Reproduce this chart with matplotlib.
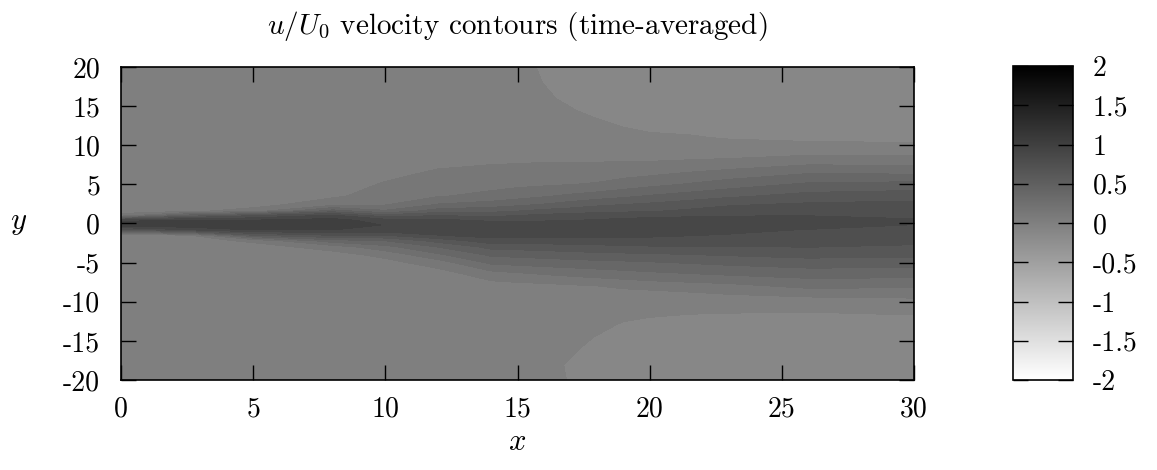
import numpy as np
import matplotlib
matplotlib.use("Agg")
import matplotlib.pyplot as plt
from matplotlib.colors import Normalize
from matplotlib.cm import ScalarMappable

plt.rcParams['font.family'] = 'serif'
plt.rcParams['font.serif'] = ['cmr10']
plt.rcParams['mathtext.fontset'] = 'cm'
plt.rcParams['axes.unicode_minus'] = False

# stations along the jet (x) and sample points across it (y)
x_st = [0, 2.5, 5, 8, 10, 12, 14, 15, 16, 17, 18, 19, 20, 21.5, 23, 26, 30]
y_pts = [-20, -18, -16, -14.5, -13, -11,
         -9.5, -8, -6.5, -5, -4, -3, -2.2, -1.5, -0.8, -0.2, 0.4, 1.0, 1.6, 2.4, 3.5, 5, 6.5, 8, 9.5,
         11, 13, 14.5, 16, 18, 20]

# u/U0 profiles, one per x station (same order as y_pts)
u_x0 = [0, 0, 0, 0, 0, 0,
        0, 0, 0, 0, 0, 0, 0, 0, 0.62, 1.04, 0.9, 0.12, 0, 0, 0, 0, 0, 0, 0,
        0, 0, 0, 0, 0, 0]
u_x2 = [0, 0, 0, 0, 0, 0,
        0, 0, 0, 0, 0, 0, 0, 0.04, 0.81, 1.04, 0.97, 0.5, 0.03, 0, 0, 0, 0, 0, 0,
        0, 0, 0, 0, 0, 0]
u_x5 = [0, 0, 0, 0, 0, 0,
        0, 0, 0, 0, 0, 0, 0.09, 0.56, 0.95, 1.04, 0.95, 0.69, 0.12, 0.01, 0, 0, 0, 0, 0,
        0, 0, 0, 0, 0, 0]
u_x8 = [0, 0, 0, 0, 0, 0,
        0, 0, 0, 0, 0.01, 0.12, 0.38, 0.69, 0.94, 1.02, 0.99, 0.85, 0.5, 0.15, 0.04, 0, 0, 0, 0,
        0, 0, 0, 0, 0, 0]
u_x10 = [0, 0, 0, 0, 0, 0,
         0, 0, 0, 0.02, 0.1, 0.27, 0.44, 0.69, 0.9, 0.93, 0.875, 0.62, 0.33, 0.18, 0.125, 0.075, 0.025, 0, 0,
         0, 0, 0, 0, 0, 0]
u_x12 = [0, 0, 0, 0, 0, 0,
         0, 0, 0, 0.125, 0.29, 0.44, 0.61, 0.81, 0.9, 0.91, 0.85, 0.69, 0.5, 0.325, 0.18, 0.13, 0.08, 0.025, 0,
         0, 0, 0, 0, 0, 0]
u_x14 = [0, 0, 0, 0, 0, 0,
         0, 0.01, 0.125, 0.34, 0.46, 0.6, 0.76, 0.86, 0.91, 0.9, 0.79, 0.66, 0.525, 0.375, 0.22, 0.15, 0.1, 0.045, 0.01,
         0, 0, 0, 0, 0, 0]
u_x15 = [0, 0, 0, 0, 0, 0,
         0, 0.018, 0.158, 0.358, 0.475, 0.612, 0.755, 0.86, 0.91, 0.895, 0.795, 0.692, 0.56, 0.412, 0.26, 0.16, 0.105, 0.05, 0.015,
         0, 0, 0, 0, 0, -0.019]
u_x16 = [-0.009, -0.016, 0, 0, 0, 0,
         0, 0.025, 0.19, 0.375, 0.49, 0.625, 0.75, 0.86, 0.91, 0.89, 0.8, 0.725, 0.6, 0.45, 0.3, 0.17, 0.11, 0.055, 0.02,
         0, 0, 0, -0.034, -0.066, -0.081]
u_x17 = [-0.072, -0.078, -0.041, -0.006, 0, 0,
         0, 0.042, 0.215, 0.388, 0.508, 0.638, 0.755, 0.855, 0.908, 0.892, 0.81, 0.742, 0.625, 0.495, 0.338, 0.185, 0.118, 0.055, 0.02,
         0, 0, -0.05, -0.097, -0.125, -0.125]
u_x18 = [-0.125, -0.125, -0.103, -0.069, -0.019, 0,
         0, 0.06, 0.24, 0.4, 0.525, 0.65, 0.76, 0.85, 0.905, 0.895, 0.825, 0.76, 0.65, 0.54, 0.375, 0.2, 0.125, 0.055, 0.02,
         0, -0.044, -0.112, -0.125, -0.125, -0.125]
u_x19 = [-0.125, -0.125, -0.125, -0.125, -0.081, 0,
         -0.015, 0.085, 0.26, 0.412, 0.532, 0.662, 0.76, 0.845, 0.902, 0.898, 0.842, 0.77, 0.662, 0.565, 0.412, 0.238, 0.14, 0.058, 0.015,
         -0.01, -0.09, -0.125, -0.125, -0.125, -0.125]
u_x20 = [-0.125, -0.125, -0.125, -0.125, -0.115, -0.01,
         -0.03, 0.11, 0.28, 0.425, 0.54, 0.675, 0.76, 0.84, 0.9, 0.9, 0.86, 0.78, 0.675, 0.59, 0.45, 0.275, 0.155, 0.06, 0.01,
         -0.04, -0.11, -0.125, -0.125, -0.125, -0.125]
u_x21 = [-0.125, -0.125, -0.125, -0.125, -0.125, -0.036,
         -0.003, 0.13, 0.302, 0.448, 0.558, 0.678, 0.752, 0.82, 0.88, 0.902, 0.875, 0.792, 0.71, 0.632, 0.495, 0.325, 0.192, 0.068, 0.011,
         -0.05, -0.125, -0.125, -0.125, -0.125, -0.125]
u_x23 = [-0.125, -0.125, -0.125, -0.125, -0.125, -0.044,
         0.025, 0.15, 0.325, 0.47, 0.575, 0.68, 0.745, 0.8, 0.86, 0.905, 0.89, 0.805, 0.745, 0.675, 0.54, 0.375, 0.23, 0.075, 0.0125,
         -0.075, -0.125, -0.125, -0.125, -0.125, -0.125]
u_x26 = [-0.125, -0.125, -0.125, -0.125, -0.125, -0.05,
         0.05, 0.22, 0.36, 0.505, 0.605, 0.69, 0.73, 0.775, 0.805, 0.9, 0.895, 0.81, 0.77, 0.71, 0.61, 0.46, 0.3, 0.13, -0.01,
         -0.09, -0.125, -0.125, -0.125, -0.125, -0.125]
u_x30 = [-0.125, -0.125, -0.125, -0.125, -0.125, -0.029,
         0.065, 0.206, 0.356, 0.5, 0.588, 0.669, 0.72, 0.75, 0.78, 0.806, 0.825, 0.788, 0.763, 0.725, 0.638, 0.48, 0.288, 0.125, -0.013,
         -0.1, -0.125, -0.125, -0.125, -0.125, -0.125]

profiles = [u_x0, u_x2, u_x5, u_x8, u_x10, u_x12, u_x14, u_x15, u_x16,
            u_x17, u_x18, u_x19, u_x20, u_x21, u_x23, u_x26, u_x30]
U = np.array(profiles).T   # rows = y, columns = x

tick_x = ['0', '5', '10', '15', '20', '25', '30']
tick_y = ['-20', '-15', '-10', '-5', '0', '5', '10', '15', '20']
tick_c = ['-2', '-1.5', '-1', '-0.5', '0', '0.5', '1', '1.5', '2']

fs = 20
fig = plt.figure(figsize=(11.57, 4.70), dpi=100)
ax = fig.add_axes([121 / 1157, 90 / 470, 793 / 1157, 313 / 470])
cax = fig.add_axes([1013 / 1157, 90 / 470, 60 / 1157, 314 / 470])

norm = Normalize(-2, 2)
levels = np.arange(-2.0625, 2.1, 0.125)
ax.contourf(x_st, y_pts, U, levels=levels, cmap='gray_r', norm=norm)

ax.set_xlim(0, 30)
ax.set_ylim(-20, 20)
ax.set_xticks(np.arange(0, 31, 5))
ax.set_xticklabels(tick_x)
ax.set_yticks(np.arange(-20, 21, 5))
ax.set_yticklabels(tick_y)
ax.tick_params(axis='x', direction='in', length=11, width=1, top=True,
               labelsize=fs, pad=12)
ax.tick_params(axis='y', direction='in', length=11, width=1, right=True,
               labelsize=fs, pad=15)
for s in ax.spines.values():
    s.set_linewidth(1.2)

ax.set_title(r'$u/U_0$ velocity contours (time-averaged)', fontsize=21, pad=24)
ax.set_xlabel(r'$x$', fontsize=22, labelpad=4)
ax.set_ylabel(r'$y$', fontsize=22, labelpad=32, rotation=0, va='center')

sm = ScalarMappable(norm=norm, cmap='gray_r')
cb = fig.colorbar(sm, cax=cax)
cb.set_ticks(np.arange(-2, 2.1, 0.5))
cb.set_ticklabels(tick_c)
cax.tick_params(direction='in', length=11, width=1, left=True, right=True,
                labelsize=fs, pad=14)
cb.outline.set_linewidth(1.2)

fig.savefig('out.png', dpi=100)
